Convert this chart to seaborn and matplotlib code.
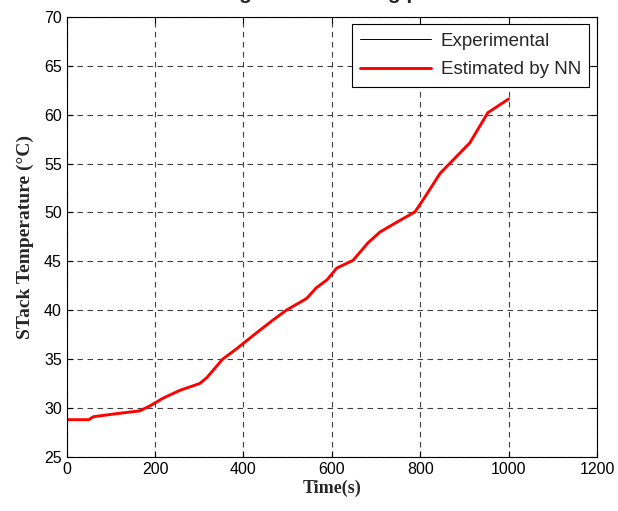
import matplotlib
matplotlib.use("Agg")
import matplotlib.pyplot as plt
import seaborn as sns
import pandas as pd

# values
time_s = [0, 50, 60, 110, 165, 188, 218, 256, 301, 317, 353, 380, 430, 467, 497,
          543, 565, 589, 611, 648, 682, 709, 747, 788, 811, 845, 912, 953, 1000]
experimental = [28.8, 28.8, 29.1, 29.4, 29.7, 30.2, 31.0, 31.8, 32.5, 33.1, 35.0,
                35.9, 37.7, 39.0, 40.0, 41.2, 42.3, 43.1, 44.3, 45.1, 46.9, 48.0,
                49.0, 50.05, 51.6, 54.0, 57.1, 60.2, 61.6]
estimated_nn = [28.8, 28.8, 29.1, 29.4, 29.7, 30.2, 31.0, 31.8, 32.5, 33.1, 35.0,
                35.9, 37.7, 39.0, 40.0, 41.2, 42.3, 43.1, 44.3, 45.1, 46.9, 48.0,
                49.0, 50.05, 51.6, 54.0, 57.1, 60.2, 61.6]
x_ticks = [0, 200, 400, 600, 800, 1000, 1200]
y_ticks = [25, 30, 35, 40, 45, 50, 55, 60, 65, 70]

sns.set_theme(style="ticks")
plt.rcParams['font.family'] = ['Liberation Sans', 'DejaVu Sans']

df_exp = pd.DataFrame({'time': time_s, 'temp': experimental})
df_nn = pd.DataFrame({'time': time_s, 'temp': estimated_nn})

fig = plt.figure(figsize=(6.18, 5.11), dpi=100)
ax = fig.add_axes([0.108, 0.106, 0.858, 0.861])

sns.lineplot(data=df_exp, x='time', y='temp', ax=ax, color='black',
             linewidth=0.7, label='Experimental')
sns.lineplot(data=df_nn, x='time', y='temp', ax=ax, color='red',
             linewidth=2.1, label='Estimated by NN')

ax.set_xlim(0, 1200)
ax.set_ylim(25, 70)
ax.set_xticks(x_ticks)
ax.set_yticks(y_ticks)
ax.tick_params(direction='in', top=True, right=True, labelsize=11.5,
               length=4, width=0.8, colors='black')
for s in ax.spines.values():
    s.set_visible(True)
    s.set_color('black')
    s.set_linewidth(0.8)

ax.grid(True, color='0.25', linestyle=(0, (5, 4)), linewidth=0.8)

ax.set_xlabel('Time(s)', fontsize=13, fontweight='bold',
              family=['Liberation Serif'], labelpad=2)
ax.set_ylabel('STack Temperature (\u00b0C)', fontsize=14, fontweight='bold',
              family=['Liberation Serif'], labelpad=7)

leg = ax.legend(loc='upper right', fontsize=13.5, frameon=True, fancybox=False,
                framealpha=1, edgecolor='black', borderaxespad=0.4,
                handlelength=3.8, handletextpad=0.5, labelspacing=0.6,
                borderpad=0.45)
leg.get_frame().set_linewidth(0.8)

# title sits mostly above the figure edge, as in the reference
fig.text(0.535, 1.0 + 1 / 511, 'Using ANN in testing phase', ha='center',
         va='baseline', fontsize=15, fontweight='bold')

fig.savefig('out.png', dpi=100)
